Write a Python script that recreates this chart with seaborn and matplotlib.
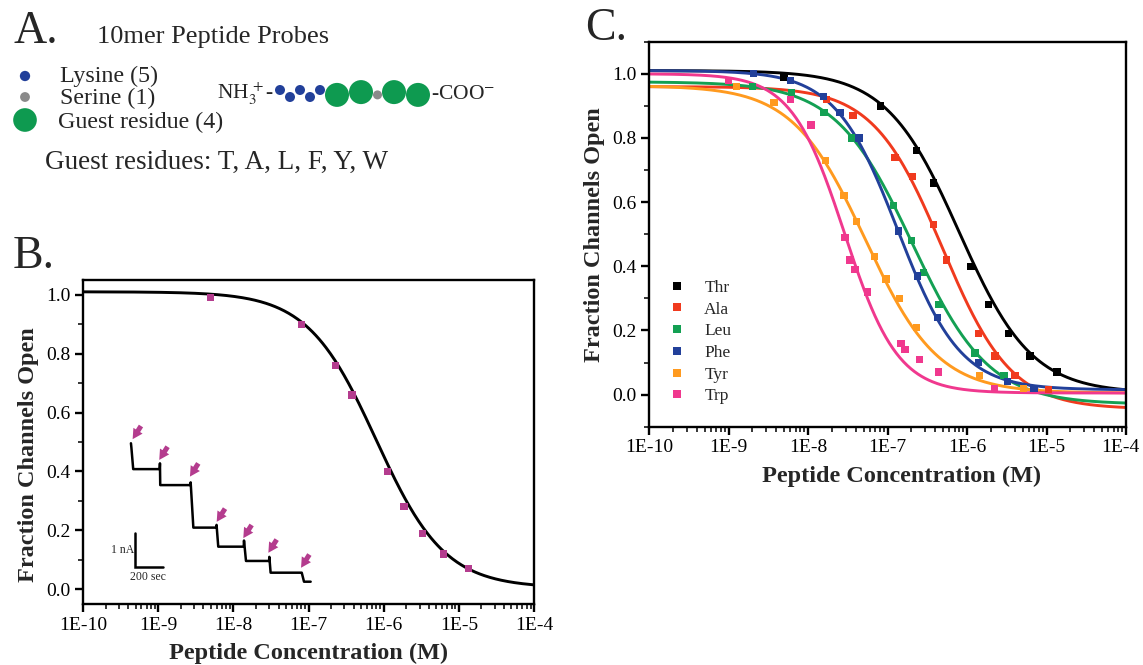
import numpy as np
import pandas as pd
import matplotlib
matplotlib.use("Agg")
import matplotlib.pyplot as plt
import seaborn as sns
from matplotlib.ticker import FixedLocator, LogLocator, NullFormatter, FixedFormatter
from matplotlib.lines import Line2D
from matplotlib.transforms import ScaledTranslation

# ---------------- data ----------------
series_names = ["Thr", "Ala", "Leu", "Phe", "Tyr", "Trp"]
series_colors = ["#000000", "#F03A1E", "#13A053", "#22409A", "#FF9A1F", "#F0388E"]

thr_conc = [5.0e-9, 8.1e-8, 2.3e-7, 3.8e-7, 1.12e-6, 1.86e-6, 3.3e-6, 6.2e-6, 1.35e-5]
thr_frac = [0.99, 0.90, 0.76, 0.66, 0.40, 0.28, 0.19, 0.12, 0.07]

ala_conc = [1.72e-8, 3.7e-8, 1.24e-7, 2.07e-7, 3.77e-7, 5.5e-7, 1.4e-6, 2.25e-6, 4.0e-6, 1.05e-5]
ala_frac = [0.92, 0.87, 0.74, 0.68, 0.53, 0.42, 0.19, 0.12, 0.06, 0.015]

leu_conc = [2.0e-9, 6.2e-9, 1.59e-8, 3.55e-8, 1.18e-7, 2.0e-7, 2.82e-7, 4.45e-7, 1.26e-6, 2.92e-6]
leu_frac = [0.96, 0.94, 0.88, 0.80, 0.59, 0.48, 0.38, 0.28, 0.13, 0.06]

phe_conc = [2.05e-9, 6.05e-9, 1.56e-8, 2.53e-8, 4.39e-8, 1.37e-7, 2.37e-7, 4.28e-7, 1.39e-6, 3.21e-6, 6.97e-6]
phe_frac = [1.00, 0.98, 0.93, 0.88, 0.80, 0.51, 0.37, 0.24, 0.10, 0.04, 0.02]

tyr_conc = [1.27e-9, 3.73e-9, 1.67e-8, 2.84e-8, 4.09e-8, 6.82e-8, 9.57e-8, 1.41e-7, 2.33e-7, 1.43e-6, 5.1e-6]
tyr_frac = [0.96, 0.91, 0.73, 0.62, 0.54, 0.43, 0.36, 0.30, 0.21, 0.06, 0.02]

trp_conc = [1.0e-9, 6.05e-9, 1.09e-8, 2.92e-8, 3.37e-8, 3.9e-8, 5.64e-8, 1.48e-7, 1.66e-7, 2.51e-7, 4.36e-7, 2.2e-6]
trp_frac = [0.98, 0.92, 0.84, 0.49, 0.42, 0.39, 0.32, 0.16, 0.14, 0.11, 0.07, 0.02]

# Hill-fit parameters (top, bottom, log IC50, Hill slope)
fit_top = [1.01, 0.96, 0.975, 1.01, 0.963, 1.0]
fit_bottom = [0.005, -0.045, -0.03, 0.015, 0.005, 0.005]
fit_logic50 = [-6.10, -6.31, -6.69, -6.87, -7.28, -7.54]
fit_hill = [0.95, 1.0, 0.9, 1.1, 0.95, 1.3]

# inset current trace (panel B): time (s) and current (nA)
trace_time = [0, 3, 16, 100, 203, 205, 207, 420, 422, 441, 603, 605, 617, 797, 799, 813,
              976, 978, 987, 1205, 1207, 1223, 1270]
trace_current = [4.07, 3.95, 3.31, 3.31, 3.31, 3.48, 2.84, 2.84, 2.92, 1.59, 1.59, 1.67, 1.03,
                 1.03, 1.21, 0.61, 0.61, 0.73, 0.265, 0.265, 0.265, 0.0, 0.0]
arrow_time = [12, 200, 417, 606, 794, 971, 1202]
arrow_current = [4.19, 3.58, 3.09, 1.76, 1.28, 0.85, 0.41]

xtick_values = [1e-10, 1e-9, 1e-8, 1e-7, 1e-6, 1e-5, 1e-4]
xtick_labels = ["1E-10", "1E-9", "1E-8", "1E-7", "1E-6", "1E-5", "1E-4"]
ytick_values = [0.0, 0.2, 0.4, 0.6, 0.8, 1.0]
ytick_labels = ["0.0", "0.2", "0.4", "0.6", "0.8", "1.0"]

peptide_sequence = ["K", "K", "K", "K", "K", "X", "X", "S", "X", "X"]
legend_A = ["Lysine (5)", "Serine (1)", "Guest residue (4)"]

conc_all = [thr_conc, ala_conc, leu_conc, phe_conc, tyr_conc, trp_conc]
frac_all = [thr_frac, ala_frac, leu_frac, phe_frac, tyr_frac, trp_frac]

# ---------------- style ----------------
sns.set_theme(style="ticks")
plt.rcParams["font.family"] = ["Liberation Serif", "DejaVu Serif"]
plt.rcParams["mathtext.fontset"] = "stix"

W, H = 1143, 665
fig = plt.figure(figsize=(W / 100, H / 100), dpi=100)

MAG = "#B43C8E"
BLUE = "#22409A"
GRAY = "#8A8A8A"
GREEN = "#0E9A50"


def hill(logx, top, bottom, logic50, n):
    return bottom + (top - bottom) / (1 + 10 ** (n * (logx - logic50)))


def style_axes(ax, ylo, yhi):
    ax.set_xscale("log")
    ax.set_xlim(1e-10, 1e-4)
    ax.set_ylim(ylo, yhi)
    ax.xaxis.set_major_locator(FixedLocator(xtick_values))
    ax.xaxis.set_major_formatter(FixedFormatter(xtick_labels))
    ax.xaxis.set_minor_locator(LogLocator(base=10, subs=np.arange(2, 10)))
    ax.xaxis.set_minor_formatter(NullFormatter())
    ax.yaxis.set_major_locator(FixedLocator(ytick_values))
    ax.yaxis.set_major_formatter(FixedFormatter(ytick_labels))
    ax.yaxis.set_minor_locator(FixedLocator(np.arange(-0.1, 1.11, 0.1)))
    for s in ax.spines.values():
        s.set_linewidth(1.7)
        s.set_color("black")
        s.set_visible(True)
    ax.tick_params(which="major", direction="out", length=6, width=1.7, labelsize=14,
                   colors="black", pad=3, top=False, right=False)
    ax.tick_params(which="minor", direction="out", length=3.5, width=1.3, top=False, right=False)
    ax.set_xlabel("Peptide Concentration (M)", fontsize=17.5, fontweight="bold", labelpad=7)
    ax.set_ylabel("Fraction Channels Open", fontsize=17.5, fontweight="bold", labelpad=5)
    ax.set_facecolor("white")
    ax.grid(False)


logx_grid = np.linspace(-10, -4, 400)

# ---------------- panel B ----------------
axB = fig.add_axes([83 / W, 1 - 604 / H, 451 / W, 324 / H])
yB = hill(logx_grid, fit_top[0], fit_bottom[0], fit_logic50[0], fit_hill[0])
sns.lineplot(x=10 ** logx_grid, y=yB, color="black", lw=2.1, ax=axB, estimator=None, sort=False)
sns.scatterplot(x=thr_conc, y=thr_frac, marker="s", s=28, color=MAG, edgecolor="none",
                ax=axB, zorder=5)
style_axes(axB, -0.05, 1.05)
axB.yaxis.label.set_y(0.46)

# inset trace
axI = fig.add_axes([110 / W, 1 - 590 / H, 210 / W, 160 / H])
axI.set_xlim(-148, 1336)
axI.set_ylim(-0.244, 4.46)
axI.axis("off")
axI.patch.set_alpha(0)
sns.lineplot(x=trace_time, y=trace_current, color="black", lw=1.8, ax=axI,
             estimator=None, sort=False)
for t, c in zip(arrow_time, arrow_current):
    axI.annotate("", xy=(t, c), xytext=(6, 9.5), textcoords="offset points",
                 arrowprops=dict(arrowstyle="simple,head_length=0.6,head_width=0.65,tail_width=0.3",
                                 mutation_scale=12, color=MAG, lw=0, shrinkA=0, shrinkB=0))
# scale bar: 200 s x 1 nA
sb_t, sb_c = 28, 0.44
axI.plot([sb_t, sb_t, sb_t + 200], [sb_c + 1.0, sb_c, sb_c], color="black", lw=1.8,
         solid_joinstyle="miter")
axI.text(sb_t - 8, sb_c + 0.5, "1 nA", ha="right", va="center", fontsize=8.5)
axI.text(sb_t + 90, sb_c - 0.12, "200 sec", ha="center", va="top", fontsize=8.5)

# ---------------- panel C ----------------
axC = fig.add_axes([649 / W, 1 - 426.7 / H, 477 / W, 385 / H])
for i, name in enumerate(series_names):
    yc = hill(logx_grid, fit_top[i], fit_bottom[i], fit_logic50[i], fit_hill[i])
    sns.lineplot(x=10 ** logx_grid, y=yc, color=series_colors[i], lw=2.1, ax=axC,
                 estimator=None, sort=False)
for i, name in enumerate(series_names):
    sns.scatterplot(x=conc_all[i], y=frac_all[i], marker="s", s=28, color=series_colors[i],
                    edgecolor="none", ax=axC, zorder=5)
style_axes(axC, -0.1, 1.1)
axC.xaxis.label.set_x(0.53)
# keep the right-most tick label inside the canvas
last_lbl = axC.get_xticklabels()[-1]
last_lbl.set_transform(last_lbl.get_transform() + ScaledTranslation(-6 / 100, 0, fig.dpi_scale_trans))
handles = [Line2D([], [], marker="s", ls="", color=c, markersize=5.5, markeredgewidth=0)
           for c in series_colors]
axC.legend(handles, series_names, loc="upper left", bbox_to_anchor=(0.025, 0.40),
           frameon=False, fontsize=12.5, handlelength=1.0, handletextpad=1.1,
           labelspacing=0.32, borderaxespad=0)

# ---------------- panel A & letters (overlay in pixel coords) ----------------
axA = fig.add_axes([0, 0, 1, 1], zorder=-1)
axA.set_xlim(0, W)
axA.set_ylim(H, 0)
axA.axis("off")

axA.text(13, 43, "A.", fontsize=33, va="baseline", ha="left")
axA.text(13, 268, "B.", fontsize=33, va="baseline", ha="left")
axA.text(585, 40, "C.", fontsize=33, va="baseline", ha="left")
axA.text(97, 43, "10mer Peptide Probes", fontsize=19, va="baseline", ha="left")

leg_colors = [BLUE, GRAY, GREEN]
leg_sizes = [55, 50, 290]
leg_y = [76, 97, 120]
leg_base = [82, 104, 128]
for lab, col, sz, yy, yb in zip(legend_A, leg_colors, leg_sizes, leg_y, leg_base):
    axA.scatter([25], [yy], s=sz, color=col, edgecolor="none")
    axA.text(60 if sz < 100 else 58, yb, lab, fontsize=17.3, va="baseline", ha="left")
axA.text(45, 169, "Guest residues: T, A, L, F, Y, W", fontsize=19.5, va="baseline", ha="left")

# peptide chain schematic
radius = {"K": 5.0, "S": 4.5, "X": 12.0}
color_of = {"K": BLUE, "S": GRAY, "X": GREEN}
xs, ys = [], []
x = 280.0
for i, r in enumerate(peptide_sequence):
    if i > 0:
        x += radius[peptide_sequence[i - 1]] + radius[r]
    xs.append(x)
    ys.append(93.5 + (-3.5 if i % 2 == 0 else 3.5) * (1 if r == "K" else 0.4))
for xx, yy, r in zip(xs, ys, peptide_sequence):
    d_pt = 2 * radius[r] * 0.72
    axA.scatter([xx], [yy], s=d_pt ** 2, color=color_of[r], edgecolor="none", zorder=3)
axA.text(xs[0] - radius["K"] - 1, 99, r"NH$_3^{\,+}$-", fontsize=15.5, va="baseline", ha="right")
axA.text(xs[-1] + radius["X"] + 1, 99, r"-COO$^{-}$", fontsize=15.5, va="baseline", ha="left")

fig.savefig("out.png", dpi=100)
